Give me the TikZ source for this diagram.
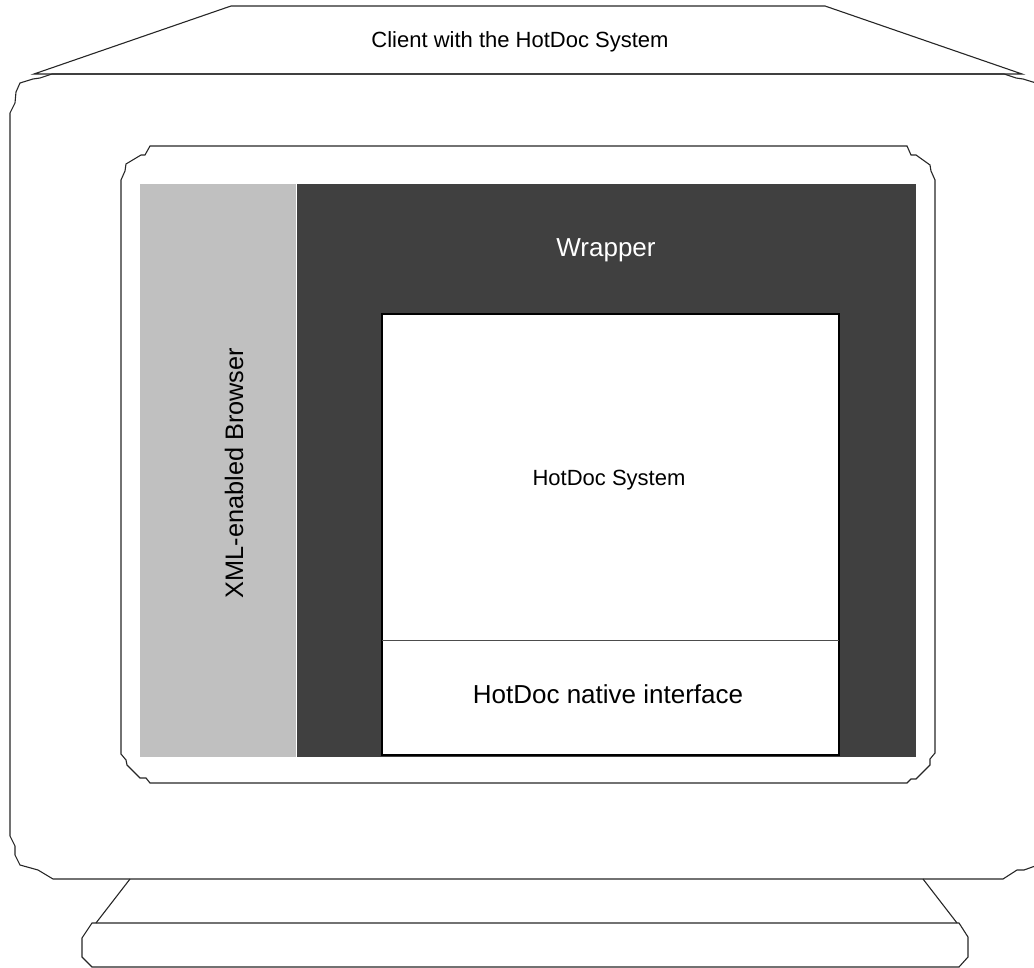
\documentclass[tikz,border=0pt]{standalone}
\usepackage{fontspec}
\setmainfont{Liberation Sans}
\begin{document}
\begin{tikzpicture}[x=1pt,y=-1pt,
  outline/.style={draw=black!85,line width=1.1pt,line join=miter},
  lbl/.style={inner sep=0pt,font=\fontsize{26}{30}\selectfont},
  ttl/.style={inner sep=0pt,font=\fontsize{22}{26}\selectfont}]
\useasboundingbox (0,0) rectangle (1034,968);
\begin{scope}
\clip (0,0) rectangle (1034,968);
% monitor top (trapezoid)
\draw[outline] (34,74) -- (231,6) -- (825,6) -- (1022,74) -- cycle;
% monitor body
\draw[outline] (52,74) -- (40,78) -- (33,79) -- (20,83) -- (16,92) -- (15,103) -- (10,113)
  -- (10,836) -- (15,846) -- (15,855) -- (20,865) -- (38,870) -- (53,879)
  -- (1003,879) -- (1017,870) -- (1024,870) -- (1038,865) -- (1041,855) -- (1041,846) -- (1046,836)
  -- (1046,113) -- (1041,103) -- (1040,92) -- (1036,83) -- (1023,79) -- (1016,78) -- (1004,74) -- cycle;
% stand
\draw[outline] (130,879) -- (96,923);
\draw[outline] (923,879) -- (957,923);
\draw[outline] (92,923) -- (959,923) -- (968,937) -- (968,957) -- (959,967) -- (92,967) -- (82,957) -- (82,938) -- cycle;
% screen frame
\draw[outline] (150,146) -- (907,146) -- (911,155) -- (916,155) -- (930,165) -- (931,171) -- (935,180)
  -- (935,753) -- (930,759) -- (930,765) -- (916,779) -- (911,779) -- (907,783)
  -- (150,783) -- (146,778) -- (140,778) -- (127,765) -- (126,760) -- (121,754)
  -- (121,180) -- (125,171) -- (126,164) -- (141,155) -- (145,155) -- cycle;
\end{scope}
% browser and wrapper
\fill[fill={rgb,255:red,192;green,192;blue,192}] (140,184) rectangle (296,757);
\fill[fill={rgb,255:red,64;green,64;blue,64}] (297,184) rectangle (916,757);
% hotdoc boxes
\draw[fill=white,draw=black,line width=1.6pt] (382,314) rectangle (839,755);
\draw[draw=black!70,line width=1pt] (382,640) -- (839,640);
% labels
\node[ttl,anchor=base] (title) at (520,48) {Client with the HotDoc System};
\node[lbl,anchor=base,text=white] (wrapper) at (606,257) {Wrapper};
\node[lbl,anchor=base,font=\fontsize{22}{26}\selectfont] (hotdoc) at (609,485) {HotDoc System};
\node[lbl,anchor=base] (native) at (608,703) {HotDoc native interface};
\node[lbl,anchor=base,rotate=90,font=\fontsize{25.3}{30}\selectfont] (browser) at (243,473) {XML-enabled Browser};
\end{tikzpicture}
\end{document}
